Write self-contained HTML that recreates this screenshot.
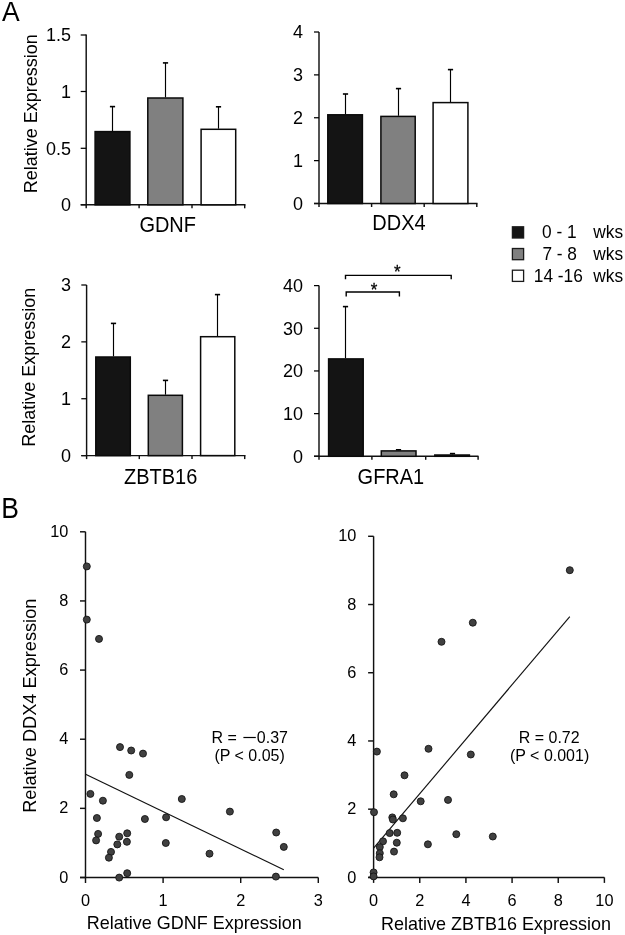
<!DOCTYPE html><html><head><meta charset="utf-8"><style>html,body{margin:0;padding:0;background:#fff;}svg{display:block;filter:grayscale(1) blur(0.3px);}</style></head><body>
<svg width="625" height="935" viewBox="0 0 625 935" font-family='"Liberation Sans", sans-serif' fill="#000">
<rect width="625" height="935" fill="#fff"/>
<text transform="translate(2.1,20.7) scale(1,1.045)" font-size="26.5" text-anchor="start" >A</text>
<line x1="86.2" y1="34.4" x2="86.2" y2="204.8" stroke="#111" stroke-width="1.45"/>
<line x1="80.7" y1="35" x2="86.2" y2="35" stroke="#000" stroke-width="1.25"/>
<text transform="translate(71,41.3) scale(1,1.04)" font-size="18" text-anchor="end" >1.5</text>
<line x1="80.7" y1="91.5" x2="86.2" y2="91.5" stroke="#000" stroke-width="1.25"/>
<text transform="translate(71,97.8) scale(1,1.04)" font-size="18" text-anchor="end" >1</text>
<line x1="80.7" y1="148.3" x2="86.2" y2="148.3" stroke="#000" stroke-width="1.25"/>
<text transform="translate(71,154.6) scale(1,1.04)" font-size="18" text-anchor="end" >0.5</text>
<line x1="80.7" y1="204.8" x2="86.2" y2="204.8" stroke="#000" stroke-width="1.25"/>
<text transform="translate(71,211.1) scale(1,1.04)" font-size="18" text-anchor="end" >0</text>
<line x1="80.7" y1="204.8" x2="245.5" y2="204.8" stroke="#111" stroke-width="1.45"/>
<line x1="86.2" y1="204.8" x2="86.2" y2="208.3" stroke="#111" stroke-width="1.45"/>
<line x1="139.1" y1="204.8" x2="139.1" y2="208.3" stroke="#111" stroke-width="1.45"/>
<line x1="192" y1="204.8" x2="192" y2="208.3" stroke="#111" stroke-width="1.45"/>
<line x1="244.7" y1="204.8" x2="244.7" y2="208.3" stroke="#111" stroke-width="1.45"/>
<line x1="112.5" y1="106.6" x2="112.5" y2="131" stroke="#000" stroke-width="1.15"/>
<line x1="109.9" y1="106.6" x2="115.1" y2="106.6" stroke="#000" stroke-width="1.6"/>
<rect x="95.10" y="131.60" width="34.80" height="73.20" fill="#141414" stroke="#0a0a0a" stroke-width="1.5"/>
<line x1="165.5" y1="62.9" x2="165.5" y2="97.4" stroke="#000" stroke-width="1.15"/>
<line x1="162.9" y1="62.9" x2="168.1" y2="62.9" stroke="#000" stroke-width="1.6"/>
<rect x="147.80" y="98.00" width="35.10" height="106.80" fill="#808080" stroke="#0a0a0a" stroke-width="1.5"/>
<line x1="218.5" y1="106.8" x2="218.5" y2="128.7" stroke="#000" stroke-width="1.15"/>
<line x1="215.9" y1="106.8" x2="221.1" y2="106.8" stroke="#000" stroke-width="1.6"/>
<rect x="201.10" y="129.30" width="34.60" height="75.50" fill="#ffffff" stroke="#0a0a0a" stroke-width="1.5"/>
<text transform="translate(167.7,231.7) scale(1,1.09)" font-size="20" text-anchor="middle" >GDNF</text>
<line x1="319" y1="32" x2="319" y2="203.5" stroke="#111" stroke-width="1.45"/>
<line x1="314" y1="32" x2="319" y2="32" stroke="#000" stroke-width="1.25"/>
<text transform="translate(303,38.3) scale(1,1.04)" font-size="18" text-anchor="end" >4</text>
<line x1="314" y1="74.88" x2="319" y2="74.88" stroke="#000" stroke-width="1.25"/>
<text transform="translate(303,81.18) scale(1,1.04)" font-size="18" text-anchor="end" >3</text>
<line x1="314" y1="117.75" x2="319" y2="117.75" stroke="#000" stroke-width="1.25"/>
<text transform="translate(303,124.05) scale(1,1.04)" font-size="18" text-anchor="end" >2</text>
<line x1="314" y1="160.63" x2="319" y2="160.63" stroke="#000" stroke-width="1.25"/>
<text transform="translate(303,166.93) scale(1,1.04)" font-size="18" text-anchor="end" >1</text>
<line x1="314" y1="203.5" x2="319" y2="203.5" stroke="#000" stroke-width="1.25"/>
<text transform="translate(303,209.8) scale(1,1.04)" font-size="18" text-anchor="end" >0</text>
<line x1="314" y1="203.5" x2="477.5" y2="203.5" stroke="#111" stroke-width="1.45"/>
<line x1="319" y1="203.5" x2="319" y2="207" stroke="#111" stroke-width="1.45"/>
<line x1="371.6" y1="203.5" x2="371.6" y2="207" stroke="#111" stroke-width="1.45"/>
<line x1="424.2" y1="203.5" x2="424.2" y2="207" stroke="#111" stroke-width="1.45"/>
<line x1="476.8" y1="203.5" x2="476.8" y2="207" stroke="#111" stroke-width="1.45"/>
<line x1="345.5" y1="94" x2="345.5" y2="114.2" stroke="#000" stroke-width="1.15"/>
<line x1="342.9" y1="94" x2="348.1" y2="94" stroke="#000" stroke-width="1.6"/>
<rect x="327.80" y="114.80" width="34.60" height="88.70" fill="#141414" stroke="#0a0a0a" stroke-width="1.5"/>
<line x1="398.5" y1="88.6" x2="398.5" y2="115.8" stroke="#000" stroke-width="1.15"/>
<line x1="395.9" y1="88.6" x2="401.1" y2="88.6" stroke="#000" stroke-width="1.6"/>
<rect x="380.90" y="116.40" width="34.30" height="87.10" fill="#808080" stroke="#0a0a0a" stroke-width="1.5"/>
<line x1="450.5" y1="69.6" x2="450.5" y2="102" stroke="#000" stroke-width="1.15"/>
<line x1="447.9" y1="69.6" x2="453.1" y2="69.6" stroke="#000" stroke-width="1.6"/>
<rect x="433.10" y="102.60" width="34.80" height="100.90" fill="#ffffff" stroke="#0a0a0a" stroke-width="1.5"/>
<text transform="translate(399,229.9) scale(1,1.09)" font-size="20" text-anchor="middle" >DDX4</text>
<line x1="86.6" y1="285" x2="86.6" y2="455.6" stroke="#111" stroke-width="1.45"/>
<line x1="81.3" y1="285" x2="86.6" y2="285" stroke="#000" stroke-width="1.25"/>
<text transform="translate(71,291.3) scale(1,1.04)" font-size="18" text-anchor="end" >3</text>
<line x1="81.3" y1="341.87" x2="86.6" y2="341.87" stroke="#000" stroke-width="1.25"/>
<text transform="translate(71,348.17) scale(1,1.04)" font-size="18" text-anchor="end" >2</text>
<line x1="81.3" y1="398.73" x2="86.6" y2="398.73" stroke="#000" stroke-width="1.25"/>
<text transform="translate(71,405.03) scale(1,1.04)" font-size="18" text-anchor="end" >1</text>
<line x1="81.3" y1="455.6" x2="86.6" y2="455.6" stroke="#000" stroke-width="1.25"/>
<text transform="translate(71,461.9) scale(1,1.04)" font-size="18" text-anchor="end" >0</text>
<line x1="81.3" y1="455.6" x2="245.5" y2="455.6" stroke="#111" stroke-width="1.45"/>
<line x1="86.6" y1="455.6" x2="86.6" y2="459.1" stroke="#111" stroke-width="1.45"/>
<line x1="139.3" y1="455.6" x2="139.3" y2="459.1" stroke="#111" stroke-width="1.45"/>
<line x1="192" y1="455.6" x2="192" y2="459.1" stroke="#111" stroke-width="1.45"/>
<line x1="244.7" y1="455.6" x2="244.7" y2="459.1" stroke="#111" stroke-width="1.45"/>
<line x1="113.5" y1="323.4" x2="113.5" y2="356.4" stroke="#000" stroke-width="1.15"/>
<line x1="110.9" y1="323.4" x2="116.1" y2="323.4" stroke="#000" stroke-width="1.6"/>
<rect x="95.80" y="357.00" width="34.50" height="98.60" fill="#141414" stroke="#0a0a0a" stroke-width="1.5"/>
<line x1="165.5" y1="380.4" x2="165.5" y2="394.7" stroke="#000" stroke-width="1.15"/>
<line x1="162.9" y1="380.4" x2="168.1" y2="380.4" stroke="#000" stroke-width="1.6"/>
<rect x="148.30" y="395.30" width="34.10" height="60.30" fill="#808080" stroke="#0a0a0a" stroke-width="1.5"/>
<line x1="217.5" y1="294.6" x2="217.5" y2="336.1" stroke="#000" stroke-width="1.15"/>
<line x1="214.9" y1="294.6" x2="220.1" y2="294.6" stroke="#000" stroke-width="1.6"/>
<rect x="200.60" y="336.70" width="34.20" height="118.90" fill="#ffffff" stroke="#0a0a0a" stroke-width="1.5"/>
<text transform="translate(160.6,484) scale(1,1.09)" font-size="20" text-anchor="middle" >ZBTB16</text>
<line x1="319" y1="285.6" x2="319" y2="456.3" stroke="#111" stroke-width="1.45"/>
<line x1="314" y1="285.6" x2="319" y2="285.6" stroke="#000" stroke-width="1.25"/>
<text transform="translate(303,291.9) scale(1,1.04)" font-size="18" text-anchor="end" >40</text>
<line x1="314" y1="328.28" x2="319" y2="328.28" stroke="#000" stroke-width="1.25"/>
<text transform="translate(303,334.58) scale(1,1.04)" font-size="18" text-anchor="end" >30</text>
<line x1="314" y1="370.95" x2="319" y2="370.95" stroke="#000" stroke-width="1.25"/>
<text transform="translate(303,377.25) scale(1,1.04)" font-size="18" text-anchor="end" >20</text>
<line x1="314" y1="413.63" x2="319" y2="413.63" stroke="#000" stroke-width="1.25"/>
<text transform="translate(303,419.93) scale(1,1.04)" font-size="18" text-anchor="end" >10</text>
<line x1="314" y1="456.3" x2="319" y2="456.3" stroke="#000" stroke-width="1.25"/>
<text transform="translate(303,462.6) scale(1,1.04)" font-size="18" text-anchor="end" >0</text>
<line x1="314" y1="456.3" x2="478.5" y2="456.3" stroke="#111" stroke-width="1.45"/>
<line x1="319" y1="456.3" x2="319" y2="459.8" stroke="#111" stroke-width="1.45"/>
<line x1="371.9" y1="456.3" x2="371.9" y2="459.8" stroke="#111" stroke-width="1.45"/>
<line x1="425.7" y1="456.3" x2="425.7" y2="459.8" stroke="#111" stroke-width="1.45"/>
<line x1="478.1" y1="456.3" x2="478.1" y2="459.8" stroke="#111" stroke-width="1.45"/>
<line x1="345.5" y1="306.6" x2="345.5" y2="358.3" stroke="#000" stroke-width="1.15"/>
<line x1="342.9" y1="306.6" x2="348.1" y2="306.6" stroke="#000" stroke-width="1.6"/>
<rect x="328.60" y="358.90" width="34.60" height="97.40" fill="#141414" stroke="#0a0a0a" stroke-width="1.5"/>
<line x1="398.5" y1="449.8" x2="398.5" y2="450.3" stroke="#000" stroke-width="1.15"/>
<line x1="395.9" y1="449.8" x2="401.1" y2="449.8" stroke="#000" stroke-width="1.6"/>
<rect x="381.30" y="450.90" width="34.70" height="5.40" fill="#808080" stroke="#0a0a0a" stroke-width="1.5"/>
<line x1="452.5" y1="453.6" x2="452.5" y2="454.4" stroke="#000" stroke-width="1.15"/>
<line x1="449.9" y1="453.6" x2="455.1" y2="453.6" stroke="#000" stroke-width="1.6"/>
<rect x="434.80" y="455.00" width="34.60" height="1.30" fill="#ffffff" stroke="#0a0a0a" stroke-width="1.5"/>
<text transform="translate(390.9,484.1) scale(1,1.09)" font-size="20" text-anchor="middle" >GFRA1</text>
<path d="M345.5 279.2 V275.4 H451.2 V279.2" fill="none" stroke="#000" stroke-width="1.4"/>
<path d="M346.2 296.4 V292 H399.4 V296.4" fill="none" stroke="#000" stroke-width="1.4"/>
<text transform="translate(397.2,277.6) scale(1,1.04)" font-size="17" text-anchor="middle" stroke="#000" stroke-width="0.25">*</text>
<text transform="translate(374.1,295.8) scale(1,1.04)" font-size="17" text-anchor="middle" stroke="#000" stroke-width="0.25">*</text>
<text transform="translate(37.1,113.7) rotate(-90) scale(1,1.04)" font-size="18" text-anchor="middle">Relative Expression</text>
<text transform="translate(35.3,367.3) rotate(-90) scale(1,1.04)" font-size="18" text-anchor="middle">Relative Expression</text>
<rect x="512.4" y="226.8" width="11.2" height="11.2" fill="#141414" stroke="#1a1a1a" stroke-width="1.3"/>
<rect x="512.4" y="248.5" width="11.2" height="11.2" fill="#808080" stroke="#1a1a1a" stroke-width="1.3"/>
<rect x="512.4" y="270.2" width="11.2" height="11.2" fill="#ffffff" stroke="#1a1a1a" stroke-width="1.3"/>
<text transform="translate(542,238.3) scale(1,1.04)" font-size="17.3" text-anchor="start" >0 - 1</text>
<text transform="translate(542.4,260) scale(1,1.04)" font-size="17.3" text-anchor="start" >7 - 8</text>
<text transform="translate(533.8,282.2) scale(1,1.04)" font-size="17.3" text-anchor="start" >14 -16</text>
<text transform="translate(593.3,238.3) scale(1,1.04)" font-size="17.3" text-anchor="start" >wks</text>
<text transform="translate(593.3,260) scale(1,1.04)" font-size="17.3" text-anchor="start" >wks</text>
<text transform="translate(593.3,282.2) scale(1,1.04)" font-size="17.3" text-anchor="start" >wks</text>
<text transform="translate(1.2,518.2) scale(1,1.08)" font-size="26.5" text-anchor="start" >B</text>
<line x1="85.5" y1="531.8" x2="85.5" y2="877.5" stroke="#111" stroke-width="1.45"/>
<line x1="80" y1="877.5" x2="85.5" y2="877.5" stroke="#111" stroke-width="1.45"/>
<text transform="translate(68.3,882.6) scale(0.96,0.93)" font-size="17" text-anchor="end" >0</text>
<line x1="80" y1="808.36" x2="85.5" y2="808.36" stroke="#111" stroke-width="1.45"/>
<text transform="translate(68.3,813.46) scale(0.96,0.93)" font-size="17" text-anchor="end" >2</text>
<line x1="80" y1="739.22" x2="85.5" y2="739.22" stroke="#111" stroke-width="1.45"/>
<text transform="translate(68.3,744.32) scale(0.96,0.93)" font-size="17" text-anchor="end" >4</text>
<line x1="80" y1="670.08" x2="85.5" y2="670.08" stroke="#111" stroke-width="1.45"/>
<text transform="translate(68.3,675.18) scale(0.96,0.93)" font-size="17" text-anchor="end" >6</text>
<line x1="80" y1="600.94" x2="85.5" y2="600.94" stroke="#111" stroke-width="1.45"/>
<text transform="translate(68.3,606.04) scale(0.96,0.93)" font-size="17" text-anchor="end" >8</text>
<line x1="80" y1="531.8" x2="85.5" y2="531.8" stroke="#111" stroke-width="1.45"/>
<text transform="translate(68.3,536.9) scale(0.96,0.93)" font-size="17" text-anchor="end" >10</text>
<line x1="80" y1="877.5" x2="318.3" y2="877.5" stroke="#111" stroke-width="1.45"/>
<line x1="85.5" y1="877.5" x2="85.5" y2="883" stroke="#111" stroke-width="1.45"/>
<text transform="translate(85.5,906.4) scale(0.96,0.93)" font-size="17" text-anchor="middle" >0</text>
<line x1="163.1" y1="877.5" x2="163.1" y2="883" stroke="#111" stroke-width="1.45"/>
<text transform="translate(163.1,906.4) scale(0.96,0.93)" font-size="17" text-anchor="middle" >1</text>
<line x1="240.7" y1="877.5" x2="240.7" y2="883" stroke="#111" stroke-width="1.45"/>
<text transform="translate(240.7,906.4) scale(0.96,0.93)" font-size="17" text-anchor="middle" >2</text>
<line x1="318.3" y1="877.5" x2="318.3" y2="883" stroke="#111" stroke-width="1.45"/>
<text transform="translate(318.3,906.4) scale(0.96,0.93)" font-size="17" text-anchor="middle" >3</text>
<line x1="85.6" y1="774.2" x2="283.8" y2="869.8" stroke="#111" stroke-width="1.15"/>
<circle cx="86.8" cy="566.4" r="3.5" fill="#404040" stroke="#151515" stroke-width="0.9"/>
<circle cx="86.8" cy="619.6" r="3.5" fill="#404040" stroke="#151515" stroke-width="0.9"/>
<circle cx="99" cy="638.9" r="3.5" fill="#404040" stroke="#151515" stroke-width="0.9"/>
<circle cx="120" cy="747.1" r="3.5" fill="#404040" stroke="#151515" stroke-width="0.9"/>
<circle cx="131.2" cy="750.5" r="3.5" fill="#404040" stroke="#151515" stroke-width="0.9"/>
<circle cx="143" cy="753.6" r="3.5" fill="#404040" stroke="#151515" stroke-width="0.9"/>
<circle cx="129.3" cy="774.9" r="3.5" fill="#404040" stroke="#151515" stroke-width="0.9"/>
<circle cx="90.4" cy="793.9" r="3.5" fill="#404040" stroke="#151515" stroke-width="0.9"/>
<circle cx="102.9" cy="800.7" r="3.5" fill="#404040" stroke="#151515" stroke-width="0.9"/>
<circle cx="96.9" cy="818" r="3.5" fill="#404040" stroke="#151515" stroke-width="0.9"/>
<circle cx="144.9" cy="819" r="3.5" fill="#404040" stroke="#151515" stroke-width="0.9"/>
<circle cx="166.1" cy="817.3" r="3.5" fill="#404040" stroke="#151515" stroke-width="0.9"/>
<circle cx="98.1" cy="833.9" r="3.5" fill="#404040" stroke="#151515" stroke-width="0.9"/>
<circle cx="96.1" cy="840.4" r="3.5" fill="#404040" stroke="#151515" stroke-width="0.9"/>
<circle cx="119.2" cy="836.7" r="3.5" fill="#404040" stroke="#151515" stroke-width="0.9"/>
<circle cx="127.2" cy="833.3" r="3.5" fill="#404040" stroke="#151515" stroke-width="0.9"/>
<circle cx="126.9" cy="841.8" r="3.5" fill="#404040" stroke="#151515" stroke-width="0.9"/>
<circle cx="117.3" cy="844.4" r="3.5" fill="#404040" stroke="#151515" stroke-width="0.9"/>
<circle cx="111" cy="851.9" r="3.5" fill="#404040" stroke="#151515" stroke-width="0.9"/>
<circle cx="108.9" cy="857.7" r="3.5" fill="#404040" stroke="#151515" stroke-width="0.9"/>
<circle cx="127.2" cy="873.2" r="3.5" fill="#404040" stroke="#151515" stroke-width="0.9"/>
<circle cx="119.2" cy="877.6" r="3.5" fill="#404040" stroke="#151515" stroke-width="0.9"/>
<circle cx="165.8" cy="843" r="3.5" fill="#404040" stroke="#151515" stroke-width="0.9"/>
<circle cx="181.8" cy="799" r="3.5" fill="#404040" stroke="#151515" stroke-width="0.9"/>
<circle cx="229.9" cy="811.6" r="3.5" fill="#404040" stroke="#151515" stroke-width="0.9"/>
<circle cx="209.5" cy="853.7" r="3.5" fill="#404040" stroke="#151515" stroke-width="0.9"/>
<circle cx="276.2" cy="832.5" r="3.5" fill="#404040" stroke="#151515" stroke-width="0.9"/>
<circle cx="283.8" cy="846.9" r="3.5" fill="#404040" stroke="#151515" stroke-width="0.9"/>
<circle cx="275.9" cy="876.6" r="3.5" fill="#404040" stroke="#151515" stroke-width="0.9"/>
<text transform="translate(36,705.75) rotate(-90) scale(1,1.04)" font-size="18.2" text-anchor="middle">Relative DDX4 Expression</text>
<text transform="translate(194.3,928.8) scale(1,1.04)" font-size="18" text-anchor="middle" >Relative GDNF Expression</text>
<line x1="373.6" y1="536.3" x2="373.6" y2="877.4" stroke="#111" stroke-width="1.45"/>
<line x1="368.1" y1="877.4" x2="373.6" y2="877.4" stroke="#111" stroke-width="1.45"/>
<text transform="translate(356.4,882.5) scale(0.96,0.93)" font-size="17" text-anchor="end" >0</text>
<line x1="368.1" y1="809.18" x2="373.6" y2="809.18" stroke="#111" stroke-width="1.45"/>
<text transform="translate(356.4,814.28) scale(0.96,0.93)" font-size="17" text-anchor="end" >2</text>
<line x1="368.1" y1="740.96" x2="373.6" y2="740.96" stroke="#111" stroke-width="1.45"/>
<text transform="translate(356.4,746.06) scale(0.96,0.93)" font-size="17" text-anchor="end" >4</text>
<line x1="368.1" y1="672.74" x2="373.6" y2="672.74" stroke="#111" stroke-width="1.45"/>
<text transform="translate(356.4,677.84) scale(0.96,0.93)" font-size="17" text-anchor="end" >6</text>
<line x1="368.1" y1="604.52" x2="373.6" y2="604.52" stroke="#111" stroke-width="1.45"/>
<text transform="translate(356.4,609.62) scale(0.96,0.93)" font-size="17" text-anchor="end" >8</text>
<line x1="368.1" y1="536.3" x2="373.6" y2="536.3" stroke="#111" stroke-width="1.45"/>
<text transform="translate(356.4,541.4) scale(0.96,0.93)" font-size="17" text-anchor="end" >10</text>
<line x1="368.1" y1="877.4" x2="604.4" y2="877.4" stroke="#111" stroke-width="1.45"/>
<line x1="373.6" y1="877.4" x2="373.6" y2="882.9" stroke="#111" stroke-width="1.45"/>
<text transform="translate(373.6,906.3) scale(0.96,0.93)" font-size="17" text-anchor="middle" >0</text>
<line x1="419.76" y1="877.4" x2="419.76" y2="882.9" stroke="#111" stroke-width="1.45"/>
<text transform="translate(419.76,906.3) scale(0.96,0.93)" font-size="17" text-anchor="middle" >2</text>
<line x1="465.92" y1="877.4" x2="465.92" y2="882.9" stroke="#111" stroke-width="1.45"/>
<text transform="translate(465.92,906.3) scale(0.96,0.93)" font-size="17" text-anchor="middle" >4</text>
<line x1="512.08" y1="877.4" x2="512.08" y2="882.9" stroke="#111" stroke-width="1.45"/>
<text transform="translate(512.08,906.3) scale(0.96,0.93)" font-size="17" text-anchor="middle" >6</text>
<line x1="558.24" y1="877.4" x2="558.24" y2="882.9" stroke="#111" stroke-width="1.45"/>
<text transform="translate(558.24,906.3) scale(0.96,0.93)" font-size="17" text-anchor="middle" >8</text>
<line x1="604.4" y1="877.4" x2="604.4" y2="882.9" stroke="#111" stroke-width="1.45"/>
<text transform="translate(604.4,906.3) scale(0.96,0.93)" font-size="17" text-anchor="middle" >10</text>
<line x1="373.6" y1="848.2" x2="569.8" y2="616.6" stroke="#111" stroke-width="1.15"/>
<circle cx="569.8" cy="570.2" r="3.5" fill="#404040" stroke="#151515" stroke-width="0.9"/>
<circle cx="472.8" cy="622.7" r="3.5" fill="#404040" stroke="#151515" stroke-width="0.9"/>
<circle cx="441.5" cy="641.8" r="3.5" fill="#404040" stroke="#151515" stroke-width="0.9"/>
<circle cx="376.9" cy="751.6" r="3.5" fill="#404040" stroke="#151515" stroke-width="0.9"/>
<circle cx="428.5" cy="748.8" r="3.5" fill="#404040" stroke="#151515" stroke-width="0.9"/>
<circle cx="470.8" cy="754.5" r="3.5" fill="#404040" stroke="#151515" stroke-width="0.9"/>
<circle cx="404.5" cy="775.3" r="3.5" fill="#404040" stroke="#151515" stroke-width="0.9"/>
<circle cx="393.7" cy="794.3" r="3.5" fill="#404040" stroke="#151515" stroke-width="0.9"/>
<circle cx="420.7" cy="801.3" r="3.5" fill="#404040" stroke="#151515" stroke-width="0.9"/>
<circle cx="448" cy="799.9" r="3.5" fill="#404040" stroke="#151515" stroke-width="0.9"/>
<circle cx="374" cy="812.2" r="3.5" fill="#404040" stroke="#151515" stroke-width="0.9"/>
<circle cx="392.3" cy="817.4" r="3.5" fill="#404040" stroke="#151515" stroke-width="0.9"/>
<circle cx="392.9" cy="819.5" r="3.5" fill="#404040" stroke="#151515" stroke-width="0.9"/>
<circle cx="402.9" cy="818.3" r="3.5" fill="#404040" stroke="#151515" stroke-width="0.9"/>
<circle cx="389.7" cy="833.1" r="3.5" fill="#404040" stroke="#151515" stroke-width="0.9"/>
<circle cx="397.2" cy="832.8" r="3.5" fill="#404040" stroke="#151515" stroke-width="0.9"/>
<circle cx="456.3" cy="834.2" r="3.5" fill="#404040" stroke="#151515" stroke-width="0.9"/>
<circle cx="383" cy="841.3" r="3.5" fill="#404040" stroke="#151515" stroke-width="0.9"/>
<circle cx="379.8" cy="847.1" r="3.5" fill="#404040" stroke="#151515" stroke-width="0.9"/>
<circle cx="396.8" cy="842.7" r="3.5" fill="#404040" stroke="#151515" stroke-width="0.9"/>
<circle cx="427.9" cy="844.3" r="3.5" fill="#404040" stroke="#151515" stroke-width="0.9"/>
<circle cx="379.8" cy="853.2" r="3.5" fill="#404040" stroke="#151515" stroke-width="0.9"/>
<circle cx="379.5" cy="857.3" r="3.5" fill="#404040" stroke="#151515" stroke-width="0.9"/>
<circle cx="394" cy="851.6" r="3.5" fill="#404040" stroke="#151515" stroke-width="0.9"/>
<circle cx="373.6" cy="872.4" r="3.5" fill="#404040" stroke="#151515" stroke-width="0.9"/>
<circle cx="373.6" cy="876.4" r="3.5" fill="#404040" stroke="#151515" stroke-width="0.9"/>
<circle cx="492.8" cy="836.5" r="3.5" fill="#404040" stroke="#151515" stroke-width="0.9"/>
<text transform="translate(495.9,929.6) scale(1,1.04)" font-size="18" text-anchor="middle" >Relative ZBTB16 Expression</text>
<text transform="translate(211.4,742.5) scale(1,1.04)" font-size="16" text-anchor="start" >R =</text>
<line x1="243.4" y1="737.5" x2="255.8" y2="737.5" stroke="#000" stroke-width="1.2"/>
<text transform="translate(256.8,742.5) scale(1,1.04)" font-size="16" text-anchor="start" >0.37</text>
<text transform="translate(249.6,761.4) scale(1,1.04)" font-size="16" text-anchor="middle" >(P &lt; 0.05)</text>
<text transform="translate(549.2,742.5) scale(1,1.04)" font-size="16" text-anchor="middle" >R = 0.72</text>
<text transform="translate(549.6,761.4) scale(1,1.04)" font-size="16" text-anchor="middle" >(P &lt; 0.001)</text>
</svg></body></html>
